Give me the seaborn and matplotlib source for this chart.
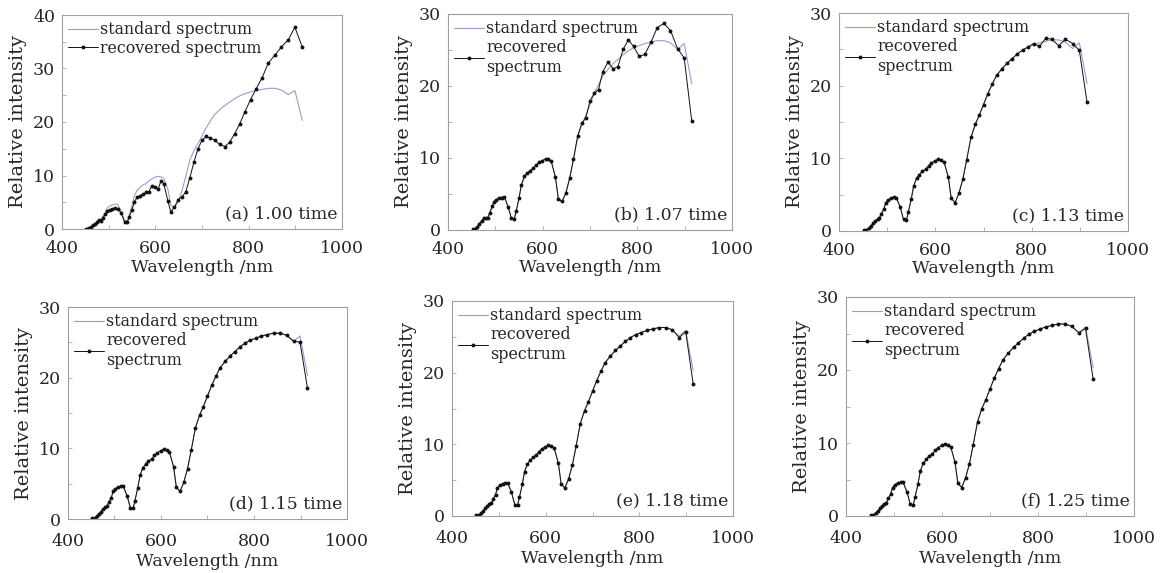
import numpy as np
import pandas as pd
import matplotlib
matplotlib.use("Agg")
import matplotlib.pyplot as plt
from matplotlib.ticker import MultipleLocator
import seaborn as sns

# wavelength grid of the spectrometer channels (nm)
wavelength = [452, 457, 462, 466, 471, 475, 480, 484, 488, 493,
              497, 502, 508, 514, 519, 527, 534, 540, 544, 550,
              555, 561, 567, 573, 580, 586, 592, 599, 606, 612,
              618, 627, 633, 641, 649, 657, 665, 674, 683, 691,
              700, 709, 718, 727, 738, 749, 759, 770, 781, 792,
              804, 816, 829, 842, 856, 870, 885, 899, 915]

standard = [0.14, 0.2, 0.36, 0.7, 1.05, 1.37, 1.64, 1.8, 2.4, 3.0,
            3.9, 4.3, 4.5, 4.65, 4.6, 3.3, 1.6, 1.5, 2.6, 4.4,
            6.2, 7.25, 7.75, 8.2, 8.5, 9.0, 9.35, 9.67, 9.85, 9.76,
            9.5, 7.4, 4.5, 3.9, 5.2, 7.1, 9.75, 12.9, 14.7, 15.9,
            17.4, 18.9, 20.2, 21.4, 22.3, 23.1, 23.7, 24.35, 24.9, 25.3,
            25.6, 25.9, 26.1, 26.3, 26.3, 26.0, 25.1, 25.9, 20.3]

rec_a = [0.06, 0.2, 0.4, 0.7, 1.0, 1.4, 1.6, 1.57, 2.1, 2.8,
         3.4, 3.6, 3.8, 3.95, 3.8, 3.0, 1.25, 1.25, 2.25, 3.6,
         5.1, 5.9, 6.2, 6.5, 6.85, 6.95, 8.0, 7.8, 7.4, 9.0,
         8.5, 5.2, 3.2, 4.1, 5.5, 6.0, 6.9, 9.6, 12.6, 14.9,
         16.6, 17.3, 17.0, 16.6, 15.8, 15.4, 16.2, 17.8, 19.7, 21.9,
         24.2, 26.2, 28.3, 31.0, 32.5, 34.0, 35.4, 37.7, 34.0]

rec_b = [0.1, 0.2, 0.45, 0.9, 1.26, 1.6, 1.6, 1.7, 2.3, 3.3,
         3.9, 4.2, 4.4, 4.5, 4.6, 3.2, 1.6, 1.5, 2.6, 4.4,
         6.25, 7.45, 7.9, 8.2, 8.6, 9.0, 9.4, 9.6, 9.9, 9.8,
         9.6, 7.3, 4.3, 3.97, 5.1, 7.2, 9.8, 13.1, 14.9, 15.5,
         17.97, 19.0, 19.5, 22.0, 23.3, 22.4, 22.7, 25.1, 26.4, 25.5,
         24.1, 24.4, 26.1, 28.1, 28.7, 27.7, 25.2, 23.9, 15.1]

rec_c = standard[:49] + [25.3, 25.8, 25.4, 26.5, 26.4, 25.5, 26.4, 25.8, 24.85, 17.7]
rec_d = standard[:56] + [25.2, 25.0, 18.5]
rec_e = standard[:56] + [24.9, 25.7, 18.4]
rec_f = standard[:57] + [25.7, 18.7]

recovered = [rec_a, rec_b, rec_c, rec_d, rec_e, rec_f]
panel_labels = ["(a) 1.00 time", "(b) 1.07 time", "(c) 1.13 time",
                "(d) 1.15 time", "(e) 1.18 time", "(f) 1.25 time"]
ymax = [40, 30, 30, 30, 30, 30]

sns.set_theme(style="white")
plt.rcParams['font.family'] = ['DejaVu Serif']
plt.rcParams['mathtext.fontset'] = 'dejavuserif'

W, H = 1168, 573
# axes frames in pixels: left, top, right, bottom
frames = [(62, 15, 342, 229), (448, 14, 732, 230), (839, 13, 1128, 231),
          (68, 307, 347, 519), (452, 301, 733, 516), (846, 297, 1134, 516)]

fig = plt.figure(figsize=(W / 100, H / 100), dpi=100)
for i, (l, t, r, b) in enumerate(frames):
    ax = fig.add_axes([l / W, 1 - b / H, (r - l) / W, (b - t) / H])
    df = pd.DataFrame({"wl": wavelength, "std": standard, "rec": recovered[i]})
    sns.lineplot(data=df, x="wl", y="std", ax=ax, color="#9a9cd0", lw=0.8,
                 label="standard spectrum")
    sns.lineplot(data=df, x="wl", y="rec", ax=ax, color="#111111", lw=0.7,
                 marker="o", markersize=2.8, markeredgewidth=0,
                 label="recovered spectrum" if i == 0 else "recovered\nspectrum")
    ax.set_xlim(400, 1000)
    ax.set_ylim(0, ymax[i])
    ax.xaxis.set_major_locator(MultipleLocator(200))
    ax.xaxis.set_minor_locator(MultipleLocator(100))
    ax.yaxis.set_major_locator(MultipleLocator(10))
    ax.yaxis.set_minor_locator(MultipleLocator(5))
    ax.tick_params(which="both", direction="in", length=3, width=0.6,
                   color="#aaaaaa", labelsize=12.5, bottom=True, left=True)
    top_row = i < 3
    ax.tick_params(axis="x", pad=8 if top_row else 10)
    ax.tick_params(axis="y", pad=5)
    for s in ax.spines.values():
        s.set_color("#a0a0a0")
        s.set_linewidth(0.8)
    ax.set_xlabel("Wavelength /nm", fontsize=12.5, labelpad=1 if top_row else 2)
    ax.set_ylabel("Relative intensity", fontsize=14, labelpad=4)
    ax.text(0.985, 0.03, panel_labels[i], transform=ax.transAxes,
            ha="right", va="bottom", fontsize=12.5)
    ax.legend(loc="upper left", frameon=False, fontsize=11.4, handlelength=1.9,
              handletextpad=0.1, borderaxespad=0.3, labelspacing=0.1,
              borderpad=0.1)

fig.savefig("out.png", dpi=100)
